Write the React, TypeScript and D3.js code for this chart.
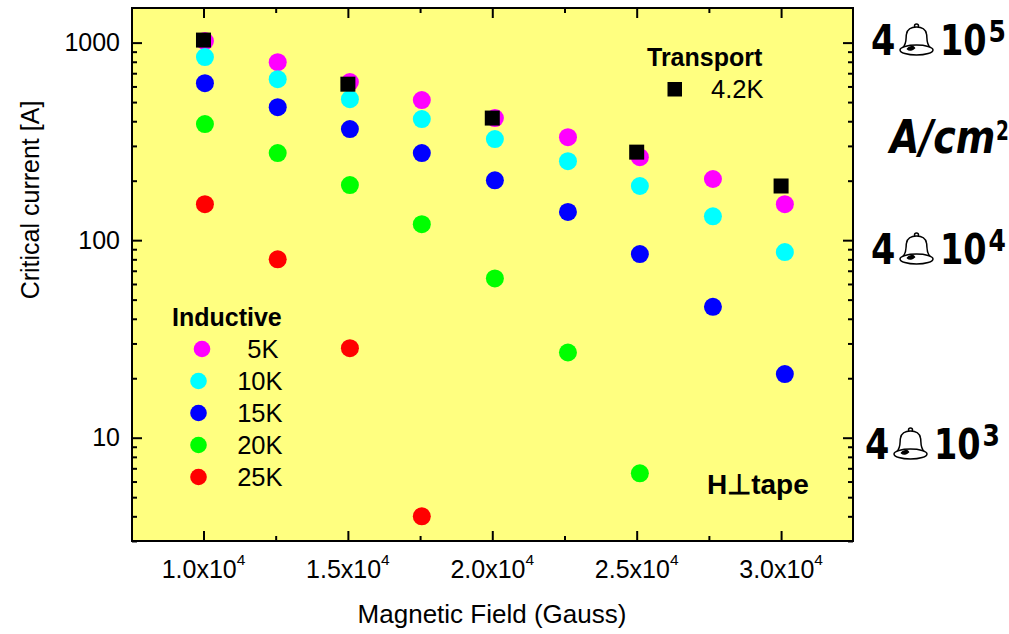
import * as d3 from 'd3';
import { useEffect, useRef } from 'react';

const fieldsCircle = [10050, 12570, 15070, 17560, 20090, 22620, 25110, 27640, 30130];
const fieldsSquare = [10000, 15000, 20000, 25000, 30000];

const current5K = [1018, 796, 631, 512, 415, 332, 263, 204, 152];
const current10K = [845, 653, 517, 410, 325, 251, 188, 132, 87];
const current15K = [623, 471, 365, 276, 201, 139, 85, 46, 21];
const current20K = [387, 276, 190, 120.5, 64, 27, 6.6];
const current25K = [152, 80, 28.4, 4.0];
const transport42K = [1030, 616, 415, 279, 188];

const xMajor = [10000, 15000, 20000, 25000, 30000];
const xMinor = [12500, 17500, 22500, 27500];
const xTickLabels = ['1.0x10', '1.5x10', '2.0x10', '2.5x10', '3.0x10'];
const yMajor = [10, 100, 1000];
const yMinor = [3, 4, 5, 6, 7, 8, 9, 20, 30, 40, 50, 60, 70, 80, 90, 200, 300, 400, 500, 600, 700, 800, 900];

const seriesNames = ['5K', '10K', '15K', '20K', '25K'];
const seriesColors = ['#ff00ff', '#00ffff', '#0000ff', '#00ff00', '#ff0000'];
const seriesValues = [current5K, current10K, current15K, current20K, current25K];

const WIDTH = 1009;
const HEIGHT = 634;
const margin = { left: 132, right: 156, top: 8, bottom: 93 };
const FONT = '"Liberation Sans", Arial, sans-serif';
const BIG_FONT = '"DejaVu Sans", sans-serif';

const x = d3.scaleLinear().domain([7525, 32490]).range([margin.left, WIDTH - margin.right]);
const y = d3.scaleLog().domain([3, 1497]).range([HEIGHT - margin.bottom, margin.top]);

// the bell is a stray dingbat in the original where the multiplication sign should be
const Bell = ({ px, py }: { px: number; py: number }) => (
    <g transform={`translate(${px}, ${py})`} stroke="#000" strokeWidth={1.5} fill="#fff">
        <circle cx={0} cy={-30} r={2} />
        <path d="M-14,-8 C-9,-13 -11,-19 -10,-22 C-9,-27 -5,-29 0,-29 C5,-29 9,-27 10,-22 C11,-19 9,-13 14,-8" />
        <ellipse cx={0} cy={-6} rx={16.5} ry={5} />
        <path d="M-9,-7 C-7,-10 -3,-10 -2,-8 C-4,-6 -7,-5 -9,-7 Z" fill="#000" />
    </g>
);

// DejaVu is wider and flatter than the hand-lettered face, so stretch it upward
const BigLabel = ({ left, base, exponent }: { left: number; base: number; exponent: string }) => (
    <g fontFamily={BIG_FONT} fontWeight="bold" fill="#000">
        <text transform={`translate(${left}, ${base}) scale(1, 1.2)`} fontSize={35}>4</text>
        <Bell px={left + 45.5} py={base + 1} />
        <text transform={`translate(${left + 69}, ${base}) scale(1, 1.25)`} fontSize={33.5}>10</text>
        <text transform={`translate(${left + 117.5}, ${base - 13}) scale(1, 1.2)`} fontSize={25}>{exponent}</text>
    </g>
);

export default function App() {
    const axisRef = useRef<SVGGElement>(null);

    useEffect(() => {
        const root = d3.select(axisRef.current);
        root.selectAll('*').remove();

        const draw = (axis: any, ticks: number[], size: number, pos: string) => {
            const g = root.append('g').attr('transform', pos);
            g.call(axis.tickValues(ticks).tickSize(size).tickSizeOuter(0).tickFormat(() => ''));
            g.select('.domain').attr('stroke', 'none');
            g.selectAll('line').attr('stroke', '#000').attr('stroke-width', 2);
        };

        const bottom = `translate(0, ${HEIGHT - margin.bottom})`;
        const top = `translate(0, ${margin.top})`;
        const left = `translate(${margin.left}, 0)`;
        const right = `translate(${WIDTH - margin.right}, 0)`;

        draw(d3.axisBottom(x), xMajor, -10, bottom);
        draw(d3.axisBottom(x), xMinor, -5, bottom);
        draw(d3.axisTop(x), xMajor, -10, top);
        draw(d3.axisTop(x), xMinor, -5, top);
        draw(d3.axisLeft(y), yMajor, -10, left);
        draw(d3.axisLeft(y), yMinor, -5, left);
        draw(d3.axisRight(y), yMajor, -10, right);
        draw(d3.axisRight(y), yMinor, -5, right);
    }, []);

    const innerW = WIDTH - margin.left - margin.right;
    const innerH = HEIGHT - margin.top - margin.bottom;

    return (
        <svg width={WIDTH} height={HEIGHT} style={{ position: 'absolute', left: 0, top: 0 }} fontFamily={FONT}>
            <rect x={margin.left} y={margin.top} width={innerW} height={innerH} fill="#ffff80" stroke="none" />

            {seriesValues.map((values, s) =>
                values.map((v, i) => (
                    <circle key={`${s}-${i}`} cx={x(fieldsCircle[i])} cy={y(v)} r={9} fill={seriesColors[s]} />
                ))
            )}
            {transport42K.map((v, i) => (
                <rect key={i} x={x(fieldsSquare[i]) - 7.5} y={y(v) - 7.5} width={15} height={15} fill="#000" />
            ))}

            <g ref={axisRef} />
            <rect x={margin.left} y={margin.top} width={innerW} height={innerH} fill="none" stroke="#000" strokeWidth={2} />

            {xMajor.map((t, i) => (
                <text key={t} x={x(t)} y={578} textAnchor="middle" fontSize={25} fill="#000">
                    {xTickLabels[i]}
                    <tspan dy={-13} fontSize={15.5}>4</tspan>
                </text>
            ))}
            {yMajor.map((t) => (
                <text key={t} x={120} y={y(t) + 8.5} textAnchor="end" fontSize={25} fill="#000">{t}</text>
            ))}

            <text x={492} y={623} textAnchor="middle" fontSize={26} fill="#000">Magnetic Field (Gauss)</text>
            <text transform="translate(39, 200) rotate(-90)" textAnchor="middle" fontSize={25} fill="#000">Critical current [A]</text>

            <text x={172} y={326} fontSize={25} fontWeight="bold" fill="#000">Inductive</text>
            {seriesNames.map((name, i) => (
                <g key={name}>
                    <circle cx={i === 0 ? 202 : 198.5} cy={349 + i * 32} r={8.3} fill={seriesColors[i]} />
                    <text x={i === 0 ? 278.5 : 282.5} y={358 + i * 32} textAnchor="end" fontSize={25.5} fill="#000">{name}</text>
                </g>
            ))}

            <text x={647} y={66} fontSize={25} fontWeight="bold" fill="#000">Transport</text>
            <rect x={667.5} y={82} width={14.5} height={14.5} fill="#000" />
            <text x={711} y={98} fontSize={25.5} fill="#000">4.2K</text>

            <text x={707} y={494} fontSize={28} fontWeight="bold" fill="#000">H⊥tape</text>

            <BigLabel left={871} base={55} exponent="5" />
            <BigLabel left={871} base={264} exponent="4" />
            <BigLabel left={865} base={459} exponent="3" />
            <g fontFamily={BIG_FONT} fontWeight="bold" fill="#000">
                <text transform="translate(890, 153) scale(1, 1.2)" fontStyle="italic" fontSize={38}>A/cm</text>
                <text transform="translate(996, 140) scale(1, 1.45)" fontSize={18.5}>2</text>
            </g>
        </svg>
    );
}
